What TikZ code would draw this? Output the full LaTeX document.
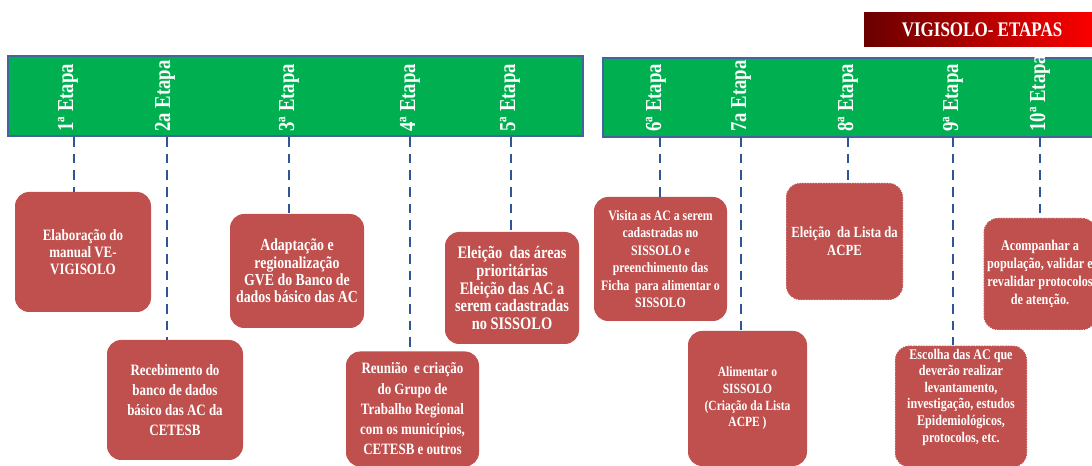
\documentclass[tikz,border=0pt]{standalone}
\usepackage{fontspec}
\setmainfont{Liberation Serif}[FakeStretch=0.82]
\usetikzlibrary{positioning}
\definecolor{verde}{RGB}{0,176,80}
\definecolor{caixa}{RGB}{192,80,77}
\definecolor{traco}{RGB}{47,85,151}
\definecolor{borda}{RGB}{68,100,160}
\definecolor{vinho}{RGB}{105,0,0}

\begin{document}
\begin{tikzpicture}[x=0.2mm,y=-0.2mm,
  barra/.style={fill=verde,draw=borda,line width=0.6pt,inner sep=0pt},
  etapa/.style={rotate=90,anchor=west,inner sep=0pt,text=white,font=\bfseries\fontsize{13}{14}\selectfont},
  caixa/.style={fill=caixa,rounded corners=8pt,inner sep=2pt,align=center,text=white},
  pontos/.style={draw=white,densely dotted,line width=0.5pt},
  ligacao/.style={draw=traco,line width=1.2pt,dash pattern=on 5.5pt off 4pt}]
  \useasboundingbox (0,0) rectangle (1092,466);

  % titulo
  \node[left color=vinho,right color=red,inner sep=0pt,minimum width=236*0.2mm,minimum height=34*0.2mm,
    text=white,font=\bfseries\fontsize{11.8}{13}\selectfont] (titulo) at (982,30) {VIGISOLO- ETAPAS};

  % faixas verdes
  \node[barra,minimum width=575*0.2mm,minimum height=80*0.2mm] (faixa1) at (295.5,96) {};
  \node[barra,minimum width=497*0.2mm,minimum height=79*0.2mm] (faixa2) at (851.5,97.5) {};

  \foreach \n/\t/\x in {1/1ª Etapa/68,2/2a Etapa/165,3/3ª Etapa/289,4/4ª Etapa/410,5/5ª Etapa/510,
      6/6ª Etapa/656,7/7a Etapa/741,8/8ª Etapa/848,9/9ª Etapa/953,10/10ª Etapa/1040}
    \node[etapa] (e\n) at (\x,132) {\t};

  % caixas
  \foreach \n/\x/\y/\w/\h/\f/\b/\t in {
      1/83/252/136/120/9/9.8/{Elaboração do\\manual VE-\\VIGISOLO},
      2/175/400/136/120/9/11.5/{Recebimento do\\banco de dados\\básico das AC da\\CETESB},
      3/297/271/134/114/9.6/9.8/{Adaptação e\\regionalização\\GVE do Banco de\\dados básico das AC},
      4/412.5/409/133/115/9/11.5/{Reunião~ e criação\\do Grupo de\\Trabalho Regional\\com os municípios,\\CETESB e outros},
      5/512/288/134/112/10/10.2/{Eleição~ das áreas\\prioritárias\\Eleição das AC a\\serem cadastradas\\no SISSOLO},
      6/660.5/259/133/124/8.2/9.9/{Visita as AC a serem\\cadastradas no\\SISSOLO e\\preenchimento das\\Ficha~ para alimentar o\\SISSOLO},
      7/747.5/398.5/119/135/8/9.5/{Alimentar o\\SISSOLO\\(Criação da Lista\\ACPE )}}
    \node[caixa,font=\bfseries\fontsize{\f}{\b}\selectfont,minimum width=\w*0.2mm,minimum height=\h*0.2mm] (b\n) at (\x,\y) {\t};
  \foreach \n/\x/\y/\w/\h/\f/\b/\t in {
      8/844.5/241.5/117/117/8.8/10.2/{Eleição~ da Lista da\\ACPE},
      9/961/406.5/132/119/8.4/9.4/{Escolha das AC que\\deverão realizar\\levantamento,\\investigação, estudos\\Epidemiológicos,\\protocolos, etc.\\[3pt]},
      10/1040/274/110/112/8.5/10.2/{Acompanhar a\\população, validar e\\revalidar protocolos\\de atenção.}}
    \node[caixa,pontos,font=\bfseries\fontsize{\f}{\b}\selectfont,minimum width=\w*0.2mm,minimum height=\h*0.2mm] (b\n) at (\x,\y) {\t};

  % ligacoes
  \foreach \n/\x in {1/74,2/167,3/289,4/410,5/511,6/660,7/741,8/848,9/953,10/1040}{
    \coordinate (p\n) at (\x,137);
    \draw[ligacao] (p\n) -- (p\n |- b\n.north);
  }
\end{tikzpicture}
\end{document}
